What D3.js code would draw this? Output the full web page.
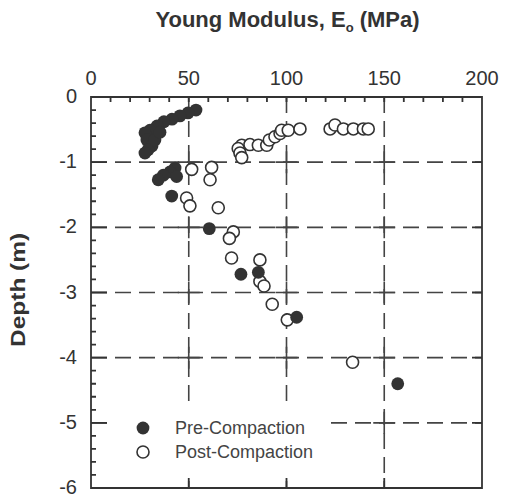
<!DOCTYPE html>
<html>
<head>
<meta charset="utf-8">
<script src="https://cdnjs.cloudflare.com/ajax/libs/d3/7.8.5/d3.min.js"></script>
<style>
  body { margin: 0; background: #fff; }
  svg { display: block; font-family: Arial, "Liberation Sans", Helvetica, sans-serif; }
</style>
</head>
<body>
<div id="chart"></div>
<script>
// Young modulus (MPa) vs depth (m)
var preModulus = [53.7, 49.6, 45.5, 41.4, 37.3, 33.8, 30.2, 27.6, 28.6, 31.2, 29.2, 27.6, 32.7, 35.3,
  43, 40.4, 43.8, 37, 34.4, 41.3, 60.5, 76.7, 85.6, 105.2, 156.9];
var preDepth = [-0.20, -0.245, -0.29, -0.34, -0.38, -0.445, -0.51, -0.55, -0.66, -0.75, -0.81, -0.86, -0.66, -0.54,
  -1.09, -1.15, -1.22, -1.20, -1.27, -1.52, -2.02, -2.72, -2.69, -3.38, -4.40];

var postModulus = [77.1, 75.3, 76.2, 77.1, 81.3, 85.6, 89.9, 91.2, 94.1, 96.7, 97.5, 100.9, 106.9,
  122.3, 124.8, 129.1, 134.2, 139.3, 141.8,
  51.5, 61.7, 60.9, 48.9, 50.6, 65.1, 72.8, 70.8, 71.9, 86.4, 86.4, 88.5, 92.7, 100.4, 133.8];
var postDepth = [-0.74, -0.79, -0.86, -0.93, -0.73, -0.74, -0.74, -0.66, -0.61, -0.56, -0.51, -0.51, -0.49,
  -0.49, -0.43, -0.49, -0.49, -0.49, -0.49,
  -1.11, -1.08, -1.27, -1.55, -1.67, -1.70, -2.07, -2.17, -2.47, -2.50, -2.83, -2.90, -3.18, -3.42, -4.07];

var xTicks = [0, 50, 100, 150, 200];
var yTicks = [0, -1, -2, -3, -4, -5, -6];
var xGrid = [50, 100, 150];
var yGrid = [-1, -2, -3, -4, -5];
var seriesNames = ['Pre-Compaction', 'Post-Compaction'];

var margin = {top: 97, right: 23, bottom: 9, left: 91};
var width = 505 - margin.left - margin.right;
var height = 497 - margin.top - margin.bottom;
var radius = 6;
var ink = '#333';

var x = d3.scaleLinear().domain([0, 200]).range([0, width]);
var y = d3.scaleLinear().domain([0, -6]).range([0, height]);

var svg = d3.select('#chart').append('svg')
    .attr('width', 505)
    .attr('height', 497)
  .append('g')
    .attr('transform', 'translate(' + margin.left + ',' + margin.top + ')');

// dashed grid
var grid = svg.append('g')
    .attr('stroke', '#444')
    .attr('stroke-width', 1.6)
    .attr('stroke-dasharray', '16,8');
grid.selectAll('.v')
    .data(xGrid)
  .enter().append('line')
    .attr('x1', function(d) { return x(d); })
    .attr('x2', function(d) { return x(d); })
    .attr('y1', 0)
    .attr('y2', height);
grid.selectAll('.h')
    .data(yGrid)
  .enter().append('line')
    .attr('x1', 0)
    .attr('x2', width)
    .attr('y1', function(d) { return y(d); })
    .attr('y2', function(d) { return y(d); });

// little crosses where the grid lines meet
var crossPath = '';
xGrid.forEach(function(a) {
  yGrid.forEach(function(b) {
    crossPath += 'M' + (x(a) - 11) + ',' + y(b) + 'h22M' + x(a) + ',' + (y(b) - 11) + 'v22';
  });
});
svg.append('path')
    .attr('d', crossPath)
    .style('fill', 'none')
    .style('stroke', '#444')
    .style('stroke-width', '1.6px');

// legend background hides the grid
svg.append('rect')
    .attr('x', 17)
    .attr('y', y(-4.75))
    .attr('width', x(122) - 17)
    .attr('height', y(-5.85) - y(-4.75))
    .attr('fill', '#fff');

// inward ticks and the frame, as one path
var d = '';
d3.range(0, 201, 10).forEach(function(v) { d += 'M' + x(v) + ',0v5'; });
d3.range(0, 31).forEach(function(i) { d += 'M0,' + y(-i / 5) + 'h5'; });
yGrid.forEach(function(v) { d += 'M0,' + y(v) + 'h16M' + width + ',' + y(v) + 'h-10'; });
xGrid.forEach(function(v) { d += 'M' + x(v) + ',' + height + 'v-10'; });
d += 'M0,0H' + width + 'V' + height + 'H0Z';

svg.append('path')
    .attr('d', d)
    .style('fill', 'none')
    .style('stroke', ink)
    .style('stroke-width', '1.8px');

// tick labels
svg.append('g')
    .attr('fill', ink)
    .attr('font-size', 20)
    .attr('text-anchor', 'middle')
  .selectAll('text')
    .data(xTicks)
  .enter().append('text')
    .attr('x', function(d) { return x(d); })
    .attr('y', -12)
    .text(function(d) { return d; });

svg.append('g')
    .attr('fill', ink)
    .attr('font-size', 20)
    .attr('text-anchor', 'end')
  .selectAll('text')
    .data(yTicks)
  .enter().append('text')
    .attr('x', -14)
    .attr('y', function(d) { return y(d); })
    .attr('dy', '0.3em')
    .text(function(d) { return d; });

// titles
var title = svg.append('text')
    .attr('x', x(100) + 1)
    .attr('y', -70)
    .attr('text-anchor', 'middle')
    .attr('font-size', 22)
    .attr('font-weight', 'bold')
    .attr('fill', ink);
title.append('tspan').text('Young Modulus, E');
title.append('tspan').attr('font-size', 13).attr('dy', 5).text('o');
title.append('tspan').attr('dy', -5).text(' (MPa)');

svg.append('text')
    .attr('transform', 'translate(' + (-66) + ',' + y(-2.96) + ') rotate(-90)')
    .attr('text-anchor', 'middle')
    .attr('font-size', 21)
    .attr('font-weight', 'bold')
    .attr('fill', ink)
    .attr('textLength', 114)
    .attr('lengthAdjust', 'spacingAndGlyphs')
    .text('Depth (m)');

// points
svg.append('g')
  .selectAll('circle')
    .data(postModulus.map(function(v, i) { return [v, postDepth[i]]; }))
  .enter().append('circle')
    .attr('r', radius)
    .attr('cx', function(d) { return x(d[0]); })
    .attr('cy', function(d) { return y(d[1]); })
    .attr('fill', '#fff')
    .attr('stroke', ink)
    .attr('stroke-width', 1.6);

svg.append('g')
  .selectAll('circle')
    .data(preModulus.map(function(v, i) { return [v, preDepth[i]]; }))
  .enter().append('circle')
    .attr('r', radius + 0.4)
    .attr('cx', function(d) { return x(d[0]); })
    .attr('cy', function(d) { return y(d[1]); })
    .attr('fill', ink);

// legend
var legend = svg.append('g')
    .attr('transform', 'translate(' + 52 + ',' + 331 + ')')
    .attr('font-size', 18)
    .attr('fill', '#444');

legend.append('circle')
    .attr('r', radius + 0.4)
    .attr('fill', ink);
legend.append('circle')
    .attr('cy', 24)
    .attr('r', radius)
    .attr('fill', '#fff')
    .attr('stroke', ink)
    .attr('stroke-width', 1.6);

legend.selectAll('.legend__label')
    .data(seriesNames)
  .enter().append('text')
    .attr('x', 32)
    .attr('y', function(d, i) { return i * 24; })
    .attr('dy', '0.35em')
    .text(function(d) { return d; });
</script>
</body>
</html>
